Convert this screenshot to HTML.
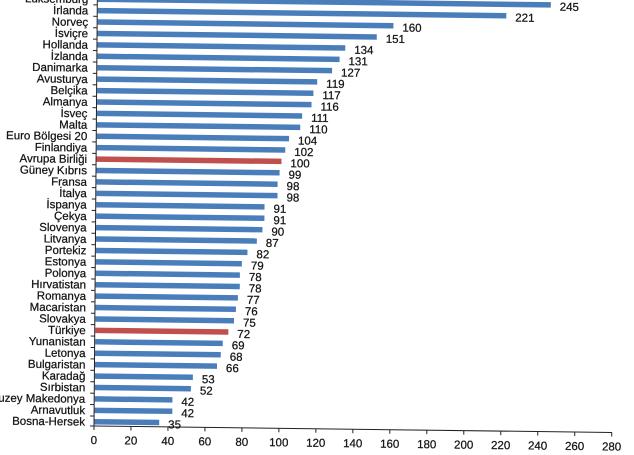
<!DOCTYPE html>
<html>
<head>
<meta charset="utf-8">
<style>
html,body{margin:0;padding:0;background:#fff;}
svg{display:block;}
text{font-family:"Liberation Sans",Arial,sans-serif;fill:#141414;stroke:#141414;stroke-width:0.25px;}
.c{font-size:11.5px;text-anchor:end;}
.v{font-size:11.5px;}
.t{font-size:11.5px;text-anchor:middle;}
</style>
</head>
<body>
<svg width="634" height="455" viewBox="0 0 634 455" xmlns="http://www.w3.org/2000/svg">
<rect x="0" y="0" width="634" height="455" fill="#fff"/>
<g transform="matrix(1 0.0125 -0.0078 1 3.32 -1.175)">
<g fill="#4a7ebb">
<rect x="94.5" y="-3.55" width="453.0" height="5.5"/>
<rect x="94.5" y="7.87" width="408.6" height="5.5"/>
<rect x="94.5" y="19.29" width="295.8" height="5.5"/>
<rect x="94.5" y="30.71" width="279.2" height="5.5"/>
<rect x="94.5" y="42.13" width="247.8" height="5.5"/>
<rect x="94.5" y="53.55" width="242.2" height="5.5"/>
<rect x="94.5" y="64.97" width="234.8" height="5.5"/>
<rect x="94.5" y="76.39" width="220.0" height="5.5"/>
<rect x="94.5" y="87.81" width="216.3" height="5.5"/>
<rect x="94.5" y="99.23" width="214.5" height="5.5"/>
<rect x="94.5" y="110.65" width="205.2" height="5.5"/>
<rect x="94.5" y="122.07" width="203.4" height="5.5"/>
<rect x="94.5" y="133.49" width="192.3" height="5.5"/>
<rect x="94.5" y="144.91" width="188.6" height="5.5"/>
<rect x="94.5" y="167.75" width="183.1" height="5.5"/>
<rect x="94.5" y="179.17" width="181.2" height="5.5"/>
<rect x="94.5" y="190.59" width="181.2" height="5.5"/>
<rect x="94.5" y="202.01" width="168.3" height="5.5"/>
<rect x="94.5" y="213.43" width="168.3" height="5.5"/>
<rect x="94.5" y="224.85" width="166.4" height="5.5"/>
<rect x="94.5" y="236.27" width="160.9" height="5.5"/>
<rect x="94.5" y="247.69" width="151.6" height="5.5"/>
<rect x="94.5" y="259.11" width="146.1" height="5.5"/>
<rect x="94.5" y="270.53" width="144.2" height="5.5"/>
<rect x="94.5" y="281.95" width="144.2" height="5.5"/>
<rect x="94.5" y="293.37" width="142.4" height="5.5"/>
<rect x="94.5" y="304.79" width="140.5" height="5.5"/>
<rect x="94.5" y="316.21" width="138.7" height="5.5"/>
<rect x="94.5" y="339.05" width="127.6" height="5.5"/>
<rect x="94.5" y="350.47" width="125.7" height="5.5"/>
<rect x="94.5" y="361.89" width="122.0" height="5.5"/>
<rect x="94.5" y="373.31" width="98.0" height="5.5"/>
<rect x="94.5" y="384.73" width="96.1" height="5.5"/>
<rect x="94.5" y="396.15" width="77.7" height="5.5"/>
<rect x="94.5" y="407.57" width="77.7" height="5.5"/>
<rect x="94.5" y="418.99" width="64.7" height="5.5"/>
</g>
<g fill="#c0504d">
<rect x="94.5" y="156.33" width="184.9" height="5.5"/>
<rect x="94.5" y="327.63" width="133.1" height="5.5"/>
</g>
<g stroke="#222" stroke-width="1" fill="none">
<line x1="94" y1="-10" x2="94" y2="426.5"/>
<line x1="94" y1="426" x2="612" y2="426"/>
</g>
<g stroke="#222" stroke-width="1">
<line x1="90" y1="4.91" x2="94" y2="4.91"/>
<line x1="90" y1="16.33" x2="94" y2="16.33"/>
<line x1="90" y1="27.75" x2="94" y2="27.75"/>
<line x1="90" y1="39.17" x2="94" y2="39.17"/>
<line x1="90" y1="50.59" x2="94" y2="50.59"/>
<line x1="90" y1="62.01" x2="94" y2="62.01"/>
<line x1="90" y1="73.43" x2="94" y2="73.43"/>
<line x1="90" y1="84.85" x2="94" y2="84.85"/>
<line x1="90" y1="96.27" x2="94" y2="96.27"/>
<line x1="90" y1="107.69" x2="94" y2="107.69"/>
<line x1="90" y1="119.11" x2="94" y2="119.11"/>
<line x1="90" y1="130.53" x2="94" y2="130.53"/>
<line x1="90" y1="141.95" x2="94" y2="141.95"/>
<line x1="90" y1="153.37" x2="94" y2="153.37"/>
<line x1="90" y1="164.79" x2="94" y2="164.79"/>
<line x1="90" y1="176.21" x2="94" y2="176.21"/>
<line x1="90" y1="187.63" x2="94" y2="187.63"/>
<line x1="90" y1="199.05" x2="94" y2="199.05"/>
<line x1="90" y1="210.47" x2="94" y2="210.47"/>
<line x1="90" y1="221.89" x2="94" y2="221.89"/>
<line x1="90" y1="233.31" x2="94" y2="233.31"/>
<line x1="90" y1="244.73" x2="94" y2="244.73"/>
<line x1="90" y1="256.15" x2="94" y2="256.15"/>
<line x1="90" y1="267.57" x2="94" y2="267.57"/>
<line x1="90" y1="278.99" x2="94" y2="278.99"/>
<line x1="90" y1="290.41" x2="94" y2="290.41"/>
<line x1="90" y1="301.83" x2="94" y2="301.83"/>
<line x1="90" y1="313.25" x2="94" y2="313.25"/>
<line x1="90" y1="324.67" x2="94" y2="324.67"/>
<line x1="90" y1="336.09" x2="94" y2="336.09"/>
<line x1="90" y1="347.51" x2="94" y2="347.51"/>
<line x1="90" y1="358.93" x2="94" y2="358.93"/>
<line x1="90" y1="370.35" x2="94" y2="370.35"/>
<line x1="90" y1="381.77" x2="94" y2="381.77"/>
<line x1="90" y1="393.19" x2="94" y2="393.19"/>
<line x1="90" y1="404.61" x2="94" y2="404.61"/>
<line x1="90" y1="416.03" x2="94" y2="416.03"/>
<line x1="90" y1="426" x2="94" y2="426"/>
</g>
<g stroke="#222" stroke-width="1">
<line x1="94" y1="426" x2="94" y2="430"/>
<line x1="130.98" y1="426" x2="130.98" y2="430"/>
<line x1="167.96" y1="426" x2="167.96" y2="430"/>
<line x1="204.94" y1="426" x2="204.94" y2="430"/>
<line x1="241.92" y1="426" x2="241.92" y2="430"/>
<line x1="278.9" y1="426" x2="278.9" y2="430"/>
<line x1="315.88" y1="426" x2="315.88" y2="430"/>
<line x1="352.86" y1="426" x2="352.86" y2="430"/>
<line x1="389.84" y1="426" x2="389.84" y2="430"/>
<line x1="426.82" y1="426" x2="426.82" y2="430"/>
<line x1="463.8" y1="426" x2="463.8" y2="430"/>
<line x1="500.78" y1="426" x2="500.78" y2="430"/>
<line x1="537.76" y1="426" x2="537.76" y2="430"/>
<line x1="574.74" y1="426" x2="574.74" y2="430"/>
<line x1="611.72" y1="426" x2="611.72" y2="430"/>
</g>
<text class="t" x="94" y="444">0</text>
<text class="t" x="130.98" y="444">20</text>
<text class="t" x="167.96" y="444">40</text>
<text class="t" x="204.94" y="444">60</text>
<text class="t" x="241.92" y="444">80</text>
<text class="t" x="278.9" y="444">100</text>
<text class="t" x="315.88" y="444">120</text>
<text class="t" x="352.86" y="444">140</text>
<text class="t" x="389.84" y="444">160</text>
<text class="t" x="426.82" y="444">180</text>
<text class="t" x="463.8" y="444">200</text>
<text class="t" x="500.78" y="444">220</text>
<text class="t" x="537.76" y="444">240</text>
<text class="t" x="574.74" y="444">260</text>
<text class="t" x="611.72" y="444">280</text>
<text class="c" x="85" y="3.2">Lüksemburg</text>
<text class="c" x="85" y="14.62">İrlanda</text>
<text class="c" x="85" y="26.04">Norveç</text>
<text class="c" x="85" y="37.46">İsviçre</text>
<text class="c" x="85" y="48.88">Hollanda</text>
<text class="c" x="85" y="60.3">İzlanda</text>
<text class="c" x="85" y="71.72">Danimarka</text>
<text class="c" x="85" y="83.14">Avusturya</text>
<text class="c" x="85" y="94.56">Belçika</text>
<text class="c" x="85" y="105.98">Almanya</text>
<text class="c" x="85" y="117.4">İsveç</text>
<text class="c" x="85" y="128.82">Malta</text>
<text class="c" x="85" y="140.24">Euro Bölgesi 20</text>
<text class="c" x="85" y="151.66">Finlandiya</text>
<text class="c" x="85" y="163.08">Avrupa Birliği</text>
<text class="c" x="85" y="174.5">Güney Kıbrıs</text>
<text class="c" x="85" y="185.92">Fransa</text>
<text class="c" x="85" y="197.34">İtalya</text>
<text class="c" x="85" y="208.76">İspanya</text>
<text class="c" x="85" y="220.18">Çekya</text>
<text class="c" x="85" y="231.6">Slovenya</text>
<text class="c" x="85" y="243.02">Litvanya</text>
<text class="c" x="85" y="254.44">Portekiz</text>
<text class="c" x="85" y="265.86">Estonya</text>
<text class="c" x="85" y="277.28">Polonya</text>
<text class="c" x="85" y="288.7">Hırvatistan</text>
<text class="c" x="85" y="300.12">Romanya</text>
<text class="c" x="85" y="311.54">Macaristan</text>
<text class="c" x="85" y="322.96">Slovakya</text>
<text class="c" x="85" y="334.38">Türkiye</text>
<text class="c" x="85" y="345.8">Yunanistan</text>
<text class="c" x="85" y="357.22">Letonya</text>
<text class="c" x="85" y="368.64">Bulgaristan</text>
<text class="c" x="85" y="380.06">Karadağ</text>
<text class="c" x="85" y="391.48">Sırbistan</text>
<text class="c" x="85" y="402.9">Kuzey Makedonya</text>
<text class="c" x="85" y="414.32">Arnavutluk</text>
<text class="c" x="85" y="425.74">Bosna-Hersek</text>
<text class="v" x="556.5" y="4.9">245</text>
<text class="v" x="512.1" y="16.32">221</text>
<text class="v" x="399.3" y="27.74">160</text>
<text class="v" x="382.7" y="39.16">151</text>
<text class="v" x="351.3" y="50.58">134</text>
<text class="v" x="345.7" y="62.0">131</text>
<text class="v" x="338.3" y="73.42">127</text>
<text class="v" x="323.5" y="84.84">119</text>
<text class="v" x="319.8" y="96.26">117</text>
<text class="v" x="318.0" y="107.68">116</text>
<text class="v" x="308.7" y="119.1">111</text>
<text class="v" x="306.9" y="130.52">110</text>
<text class="v" x="295.8" y="141.94">104</text>
<text class="v" x="292.1" y="153.36">102</text>
<text class="v" x="288.4" y="164.78">100</text>
<text class="v" x="286.6" y="176.2">99</text>
<text class="v" x="284.7" y="187.62">98</text>
<text class="v" x="284.7" y="199.04">98</text>
<text class="v" x="271.8" y="210.46">91</text>
<text class="v" x="271.8" y="221.88">91</text>
<text class="v" x="269.9" y="233.3">90</text>
<text class="v" x="264.4" y="244.72">87</text>
<text class="v" x="255.1" y="256.14">82</text>
<text class="v" x="249.6" y="267.56">79</text>
<text class="v" x="247.7" y="278.98">78</text>
<text class="v" x="247.7" y="290.4">78</text>
<text class="v" x="245.9" y="301.82">77</text>
<text class="v" x="244.0" y="313.24">76</text>
<text class="v" x="242.2" y="324.66">75</text>
<text class="v" x="236.6" y="336.08">72</text>
<text class="v" x="231.1" y="347.5">69</text>
<text class="v" x="229.2" y="358.92">68</text>
<text class="v" x="225.5" y="370.34">66</text>
<text class="v" x="201.5" y="381.76">53</text>
<text class="v" x="199.6" y="393.18">52</text>
<text class="v" x="181.2" y="404.6">42</text>
<text class="v" x="181.2" y="416.02">42</text>
<text class="v" x="168.2" y="427.44">35</text>
</g>
</svg>
</body>
</html>
